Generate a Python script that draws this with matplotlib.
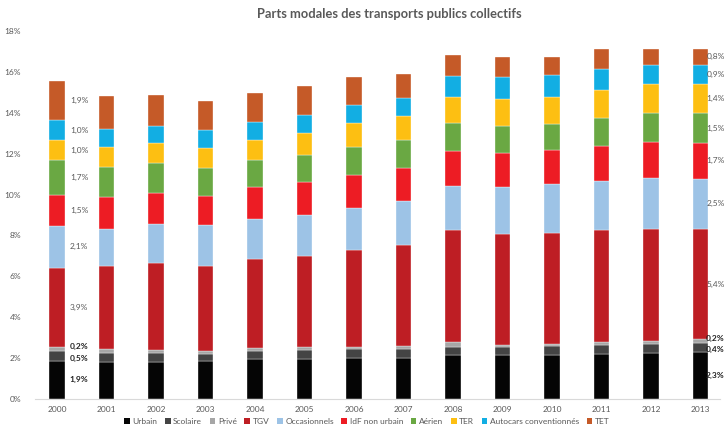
import matplotlib
matplotlib.use('Agg')
import matplotlib.pyplot as plt
from matplotlib.patches import Patch
import numpy as np

years = ['2000', '2001', '2002', '2003', '2004', '2005', '2006',
         '2007', '2008', '2009', '2010', '2011', '2012', '2013']
modes = ['Urbain', 'Scolaire', 'Privé', 'TGV', 'Occasionnels', 'IdF non urbain',
         'Aérien', 'TER', 'Autocars conventionnés', 'TET']

# parts modales en %, une liste par mode (2000 -> 2013)
urbain = [1.88, 1.81, 1.81, 1.86, 1.94, 1.94, 1.99, 2.01, 2.14, 2.14, 2.17, 2.20, 2.25, 2.30]
scolaire = [0.48, 0.44, 0.44, 0.36, 0.42, 0.46, 0.46, 0.45, 0.42, 0.42, 0.44, 0.44, 0.44, 0.44]
prive = [0.18, 0.21, 0.15, 0.13, 0.14, 0.13, 0.10, 0.13, 0.24, 0.10, 0.10, 0.13, 0.13, 0.18]
tgv = [3.86, 4.03, 4.24, 4.17, 4.35, 4.48, 4.73, 4.94, 5.45, 5.40, 5.41, 5.50, 5.51, 5.40]
occasionnels = [2.08, 1.83, 1.94, 1.99, 1.94, 1.99, 2.05, 2.14, 2.19, 2.31, 2.38, 2.40, 2.47, 2.46]
idf = [1.52, 1.55, 1.50, 1.44, 1.57, 1.60, 1.63, 1.63, 1.69, 1.67, 1.68, 1.72, 1.76, 1.74]
aerien = [1.68, 1.47, 1.45, 1.37, 1.33, 1.34, 1.37, 1.37, 1.36, 1.30, 1.29, 1.36, 1.42, 1.46]
ter = [0.98, 0.97, 0.98, 0.94, 0.98, 1.06, 1.17, 1.19, 1.30, 1.35, 1.30, 1.37, 1.43, 1.43]
autocars = [0.97, 0.88, 0.85, 0.90, 0.90, 0.89, 0.88, 0.88, 1.01, 1.05, 1.07, 1.04, 0.93, 0.93]
tet = [1.92, 1.65, 1.51, 1.40, 1.40, 1.41, 1.36, 1.15, 1.04, 0.99, 0.89, 0.96, 0.78, 0.78]

series = [urbain, scolaire, prive, tgv, occasionnels, idf, aerien, ter, autocars, tet]
colors = ['#050505', '#444444', '#a6a6a6', '#be1e24', '#9dc3e6', '#ed1c24',
          '#6aa843', '#fdbf12', '#12aee3', '#c55a28']

plt.rcParams['font.family'] = ['Lato', 'DejaVu Sans']
grey = '#595959'

fig = plt.figure(figsize=(7.25, 4.36), dpi=100)
ax = fig.add_axes([35 / 725, 1 - 399 / 436, 685 / 725, 368 / 436])

x = np.arange(len(years))
bottom = np.zeros(len(years))
for vals, col in zip(series, colors):
    ax.bar(x, vals, 0.31, bottom=bottom, color=col, edgecolor='white', linewidth=0.25)
    bottom += np.array(vals)

# étiquettes de valeurs pour 2000 et 2013
nudge = {1: -0.12, 2: 0.12}
for i, xoff in [(0, 0.45), (len(years) - 1, 0.30)]:
    base = 0
    for k, vals in enumerate(series):
        v = vals[i]
        txt = ('%.1f%%' % v).replace('.', ',')
        dark = k < 3
        ax.text(i + xoff, base + v / 2 + nudge.get(k, 0), txt, ha='center', va='center',
                fontsize=6, color='#222222' if dark else grey,
                fontweight='bold' if dark else 'normal', clip_on=False)
        base += v

ax.set_xlim(-0.444, 13.39)
ax.set_ylim(0, 18)
ax.set_xticks(x)
ax.set_xticklabels(years)
ax.set_yticks(range(0, 19, 2))
ax.set_yticklabels(['%d%%' % t for t in range(0, 19, 2)])
ax.tick_params(length=0, labelsize=6, colors=grey)
ax.tick_params(axis='y', pad=10)
ax.tick_params(axis='x', pad=5)
for s in ['top', 'right', 'left']:
    ax.spines[s].set_visible(False)
ax.spines['bottom'].set_color('#d9d9d9')
ax.spines['bottom'].set_linewidth(0.8)

fig.text(0.537, 0.968, 'Parts modales des transports publics collectifs',
         ha='center', va='center', fontsize=9.3, fontweight='bold', color=grey)

handles = [Patch(facecolor=c, edgecolor='none') for c in colors]
fig.legend(handles, modes, loc='center', bbox_to_anchor=(0.506, 1 - 421 / 436), ncol=10,
           frameon=False, fontsize=6, labelcolor=grey, handlelength=0.7, handleheight=0.7,
           handletextpad=0.3, columnspacing=0.9, borderaxespad=0)

fig.savefig('out.png', dpi=100)
